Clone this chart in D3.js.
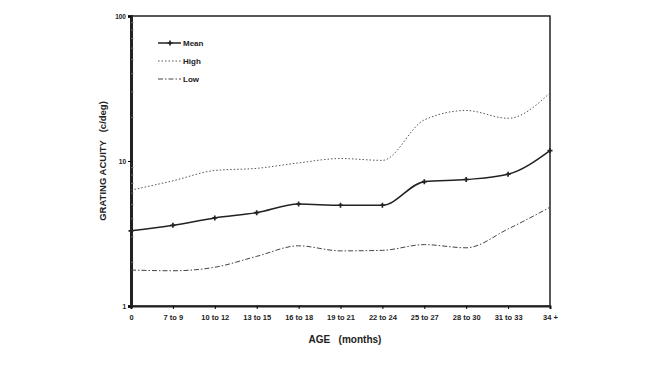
<!DOCTYPE html>
<html lang="en">
  <head>
    <style>
      body { margin: 0; background: #fff; }
      text { font-family: "Liberation Sans", Arial, sans-serif; fill: #222; }
      .tick text { font-size: 7.5px; font-weight: bold; }
    </style>
  </head>
  <body>
    <svg id="container" width="665" height="375"></svg>
  </body>
  <script src="https://d3js.org/d3.v7.min.js"></script>
  <script>
let ages = ["0", "7 to 9", "10 to 12", "13 to 15", "16 to 18", "19 to 21", "22 to 24", "25 to 27", "28 to 30", "31 to 33", "34 +"]
let meanVals = [3.3, 3.6, 4.05, 4.4, 5.05, 4.95, 4.95, 7.2, 7.45, 8.1, 11.8]
let highVals = [6.3, 7.3, 8.6, 8.9, 9.7, 10.4, 10.1, 19.2, 22.3, 19.7, 29.5]
let lowVals = [1.77, 1.75, 1.85, 2.2, 2.6, 2.4, 2.42, 2.65, 2.52, 3.4, 4.8]
let yTicks = [1, 10, 100]

let svg = d3.select("#container")
let plotLeft = 131, plotRight = 550, plotTop = 16, plotBottom = 306

let x = d3.scalePoint().domain(ages).range([plotLeft, plotRight])
let y = d3.scaleLog().domain([1, 100]).range([plotBottom, plotTop])

// frame
svg.append("rect")
    .attr("x", plotLeft).attr("y", plotTop)
    .attr("width", plotRight - plotLeft).attr("height", plotBottom - plotTop)
    .attr("fill", "none").attr("stroke", "#222").attr("stroke-width", 1.5)

let xAxis = svg.append("g")
    .attr("transform", `translate(0,${plotBottom})`)
    .call(d3.axisBottom(x).tickSize(3).tickPadding(6))
xAxis.select(".domain").attr("stroke-width", 2).attr("stroke", "#222")

let minor = []
for (let d = 1; d < 100; d *= 10)
    for (let k = 2; k <= 9; k++) minor.push(d * k)

let yAxis = svg.append("g")
    .attr("transform", `translate(${plotLeft},0)`)
    .call(d3.axisLeft(y).tickValues(yTicks).tickFormat(d3.format("d")).tickSize(3).tickPadding(2))
yAxis.select(".domain").attr("stroke-width", 3).attr("stroke", "#222")
yAxis.selectAll(".tick text").style("font-size", "6.5px")

svg.append("g")
    .selectAll("line")
    .data(minor)
    .enter()
    .append("line")
        .attr("x1", plotLeft).attr("x2", plotLeft + 3)
        .attr("y1", (d) => y(d)).attr("y2", (d) => y(d))
        .attr("stroke", "#999").attr("stroke-width", 0.6)

let series = [
    { name: "Mean", vals: meanVals, dash: null, width: 1.5, color: "#222" },
    { name: "High", vals: highVals, dash: "1.5,2", width: 1, color: "#555" },
    { name: "Low", vals: lowVals, dash: "5,2,1.5,2", width: 1, color: "#444" }
]

let line = d3.line()
    .x((d, i) => x(ages[i]))
    .y((d) => y(d))
    .curve(d3.curveMonotoneX)

series.forEach((s) => {
    svg.append("path")
        .datum(s.vals)
        .attr("d", line)
        .attr("fill", "none")
        .attr("stroke", s.color)
        .attr("stroke-width", s.width)
        .attr("stroke-dasharray", s.dash)
})

svg.append("g")
    .selectAll("path")
    .data(meanVals)
    .enter()
    .append("path")
        .attr("d", d3.symbol(d3.symbolCross, 14))
        .attr("transform", (d, i) => `translate(${x(ages[i])},${y(d)})`)
        .attr("fill", "#222")

// legend
let legend = svg.append("g")
series.forEach((s, i) => {
    let ly = 43 + i * 18
    legend.append("line")
        .attr("x1", 158).attr("x2", 181)
        .attr("y1", ly).attr("y2", ly)
        .attr("stroke", s.color)
        .attr("stroke-width", s.width)
        .attr("stroke-dasharray", s.dash)
    if (i == 0) {
        legend.append("path")
            .attr("d", d3.symbol(d3.symbolCross, 14))
            .attr("transform", `translate(170,${ly})`)
            .attr("fill", "#222")
    }
    legend.append("text")
        .attr("x", 183).attr("y", ly + 3)
        .style("font-size", "8px").style("font-weight", "bold")
        .text(s.name)
})

svg.append("text")
    .attr("x", 345).attr("y", 343)
    .attr("text-anchor", "middle")
    .style("font-size", "10px").style("font-weight", "bold")
    .attr("xml:space", "preserve")
    .text("AGE   (months)")

svg.append("text")
    .attr("transform", "translate(106,161) rotate(-90)")
    .attr("text-anchor", "middle")
    .style("font-size", "9.5px").style("font-weight", "bold")
    .attr("xml:space", "preserve")
    .text("GRATING ACUITY   (c/deg)")
  </script>
</html>
